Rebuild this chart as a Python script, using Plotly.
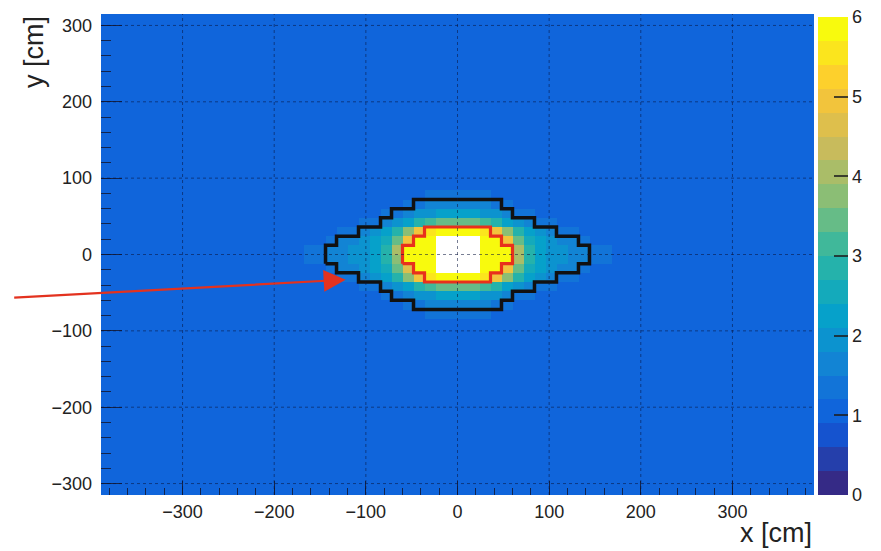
import numpy as np
import plotly.graph_objects as go

# ---------------- data ----------------
BIN_CM = 12
BACKGROUND = 1.0
Z_MIN, Z_MAX = 0, 6
X_TICKS = [-300, -200, -100, 0, 100, 200, 300]
Y_TICKS = [-300, -200, -100, 0, 100, 200, 300]
CBAR_TICKS = [0, 1, 2, 3, 4, 5, 6]

# bin centres of the populated region (x: -186..186, y: 90..-90, top row first)
BLOB_X = [-186, -174, -162, -150, -138, -126, -114, -102, -90, -78, -66, -54, -42, -30, -18, -6,
          6, 18, 30, 42, 54, 66, 78, 90, 102, 114, 126, 138, 150, 162, 174, 186]
BLOB_Y = [90, 78, 66, 54, 42, 30, 18, 6, -6, -18, -30, -42, -54, -66, -78, -90]
BLOB_Z = [
    [1.0,1.0,1.0,1.0,1.0,1.0,1.0,1.0,1.0,1.0,1.0,1.0,1.0,1.1,1.1,1.1,1.1,1.1,1.0,1.0,1.0,1.0,1.0,1.0,1.0,1.0,1.0,1.0,1.0,1.0,1.0,1.0],
    [1.0,1.0,1.0,1.0,1.0,1.0,1.0,1.0,1.0,1.0,1.1,1.1,1.2,1.3,1.3,1.3,1.3,1.3,1.3,1.2,1.1,1.1,1.0,1.0,1.0,1.0,1.0,1.0,1.0,1.0,1.0,1.0],
    [1.0,1.0,1.0,1.0,1.0,1.0,1.0,1.0,1.1,1.1,1.2,1.3,1.4,1.5,1.6,1.6,1.6,1.6,1.5,1.4,1.3,1.2,1.1,1.1,1.0,1.0,1.0,1.0,1.0,1.0,1.0,1.0],
    [1.0,1.0,1.0,1.0,1.0,1.0,1.1,1.1,1.2,1.3,1.4,1.6,1.8,2.0,2.2,2.3,2.3,2.2,2.0,1.8,1.6,1.4,1.3,1.2,1.1,1.1,1.0,1.0,1.0,1.0,1.0,1.0],
    [1.0,1.0,1.0,1.0,1.1,1.1,1.2,1.3,1.4,1.6,1.9,2.3,2.8,3.2,3.4,3.5,3.5,3.4,3.2,2.8,2.3,1.9,1.6,1.4,1.3,1.2,1.1,1.1,1.0,1.0,1.0,1.0],
    [1.0,1.0,1.1,1.1,1.2,1.3,1.4,1.6,1.9,2.3,2.8,3.8,4.9,5.5,5.8,5.9,5.9,5.8,5.5,5.0,3.9,2.9,2.3,1.9,1.6,1.4,1.3,1.2,1.1,1.1,1.0,1.0],
    [1.0,1.1,1.1,1.2,1.3,1.5,1.6,1.8,2.1,2.6,3.5,4.9,5.8,5.9,6.3,6.5,6.5,6.3,5.9,5.8,5.0,3.5,2.6,2.1,1.8,1.6,1.5,1.3,1.2,1.1,1.1,1.0],
    [1.1,1.2,1.3,1.4,1.5,1.6,1.8,2.0,2.3,2.9,4.0,5.8,5.9,5.95,6.8,7.2,7.2,6.8,5.95,5.9,5.8,4.0,2.9,2.3,2.0,1.8,1.6,1.5,1.4,1.3,1.2,1.1],
    [1.1,1.2,1.3,1.4,1.5,1.6,1.8,2.0,2.3,2.9,3.9,5.8,5.9,5.95,6.8,7.1,7.2,6.8,5.95,5.9,5.8,4.0,2.8,2.3,2.0,1.8,1.6,1.5,1.4,1.3,1.2,1.1],
    [1.0,1.1,1.1,1.2,1.3,1.5,1.6,1.8,2.1,2.6,3.5,4.8,5.8,5.9,6.3,6.4,6.5,6.3,5.9,5.8,4.9,3.5,2.6,2.1,1.8,1.6,1.5,1.3,1.2,1.1,1.1,1.0],
    [1.0,1.0,1.1,1.1,1.2,1.3,1.4,1.6,1.9,2.3,2.8,3.8,4.9,5.5,5.8,5.9,5.9,5.8,5.5,4.9,3.8,2.8,2.3,1.9,1.6,1.4,1.3,1.2,1.1,1.1,1.0,1.0],
    [1.0,1.0,1.0,1.0,1.1,1.1,1.2,1.3,1.4,1.6,1.9,2.3,2.8,3.2,3.4,3.5,3.5,3.4,3.2,2.8,2.3,1.9,1.6,1.4,1.3,1.2,1.1,1.1,1.0,1.0,1.0,1.0],
    [1.0,1.0,1.0,1.0,1.0,1.0,1.1,1.1,1.2,1.3,1.4,1.6,1.8,2.0,2.2,2.3,2.3,2.2,2.0,1.8,1.6,1.4,1.3,1.2,1.1,1.1,1.0,1.0,1.0,1.0,1.0,1.0],
    [1.0,1.0,1.0,1.0,1.0,1.0,1.0,1.0,1.1,1.1,1.2,1.3,1.4,1.5,1.6,1.6,1.6,1.6,1.5,1.4,1.3,1.2,1.1,1.1,1.0,1.0,1.0,1.0,1.0,1.0,1.0,1.0],
    [1.0,1.0,1.0,1.0,1.0,1.0,1.0,1.0,1.0,1.0,1.1,1.1,1.2,1.3,1.3,1.3,1.3,1.3,1.3,1.2,1.1,1.1,1.0,1.0,1.0,1.0,1.0,1.0,1.0,1.0,1.0,1.0],
    [1.0,1.0,1.0,1.0,1.0,1.0,1.0,1.0,1.0,1.0,1.0,1.0,1.0,1.1,1.1,1.1,1.1,1.1,1.0,1.0,1.0,1.0,1.0,1.0,1.0,1.0,1.0,1.0,1.0,1.0,1.0,1.0],
]

# contour outlines: column edges (cm) and half height (cm) of each column
BLACK_X_EDGES = [-144, -132, -108, -84, -72, -48, 48, 60, 84, 108, 132, 144]
BLACK_HALF = [12, 24, 36, 48, 60, 72, 60, 48, 36, 24, 12]
RED_X_EDGES = [-60, -48, -36, 36, 48, 60]
RED_HALF = [12, 24, 36, 24, 12]

X_RANGE = [-389, 389]
Y_RANGE = [-315, 315]
ARROW_TIP = (-122, -33)

# ---------------- build histogram grid ----------------
x_edges = np.arange(-396, 396 + BIN_CM, BIN_CM)
y_edges = np.arange(-324, 324 + BIN_CM, BIN_CM)
x_cent = (x_edges[:-1] + x_edges[1:]) / 2
y_cent = (y_edges[:-1] + y_edges[1:]) / 2
Z = np.full((len(y_cent), len(x_cent)), BACKGROUND)
for r, yv in enumerate(BLOB_Y):
    j = int(np.argmin(np.abs(y_cent - yv)))
    for c, xv in enumerate(BLOB_X):
        i = int(np.argmin(np.abs(x_cent - xv)))
        Z[j, i] = BLOB_Z[r][c]
Zd = np.where(Z > Z_MAX, np.nan, Z)  # cells above maximum are left unpainted

# ---------------- kBird palette, 20 discrete levels ----------------
stops = [0.0, 0.125, 0.25, 0.375, 0.5, 0.625, 0.75, 0.875, 1.0]
red = [0.2082, 0.0592, 0.0780, 0.0232, 0.1802, 0.5301, 0.8186, 0.9956, 0.9764]
green = [0.1664, 0.3599, 0.5041, 0.6419, 0.7178, 0.7492, 0.7328, 0.7862, 0.9832]
blue = [0.5293, 0.8684, 0.8385, 0.7914, 0.6425, 0.4662, 0.3499, 0.1968, 0.0539]


def bird(t):
    t = min(max(t, 0), 1)
    r = np.interp(t, stops, red)
    g = np.interp(t, stops, green)
    b = np.interp(t, stops, blue)
    return f"rgb({int(r*255)},{int(g*255)},{int(b*255)})"


NLEV = 20
cscale = []
for k in range(NLEV):
    col = bird(k / (NLEV - 1))
    cscale.append([k / NLEV, col])
    cscale.append([(k + 1) / NLEV, col])


def outline(edges, half):
    xs, ys = [edges[0], edges[0]], [-half[0], half[0]]
    n = len(half)
    for i in range(n):
        xs.append(edges[i + 1]); ys.append(half[i])
        if i + 1 < n:
            xs.append(edges[i + 1]); ys.append(half[i + 1])
    xs.append(edges[-1]); ys.append(-half[-1])
    for i in range(n - 1, -1, -1):
        xs.append(edges[i]); ys.append(-half[i])
        if i - 1 >= 0:
            xs.append(edges[i]); ys.append(-half[i - 1])
    return xs, ys


FONT = "Liberation Sans, Arial, Helvetica, sans-serif"

fig = go.Figure()
fig.add_trace(go.Heatmap(
    x=x_edges, y=y_edges, z=Zd, zmin=Z_MIN, zmax=Z_MAX,
    colorscale=cscale, zsmooth=False, hoverongaps=False,
    colorbar=dict(
        x=1.0056, xanchor="left", xref="paper", y=0, yanchor="bottom",
        len=478, lenmode="pixels", thickness=30, outlinewidth=0,
        xpad=0, ypad=0, ticklabeloverflow="allow",
        tickvals=CBAR_TICKS, ticks="inside", ticklen=14, tickwidth=1.5,
        tickcolor="rgba(30,30,30,0.8)",
        tickfont=dict(family=FONT, size=18, color="#222"),
    ),
))

bx, by = outline(BLACK_X_EDGES, BLACK_HALF)
rx, ry = outline(RED_X_EDGES, RED_HALF)
fig.add_trace(go.Scatter(x=bx, y=by, mode="lines", line=dict(color="#111111", width=3.5),
                         hoverinfo="skip", showlegend=False))
fig.add_trace(go.Scatter(x=rx, y=ry, mode="lines", line=dict(color="#e8301c", width=3.2),
                         hoverinfo="skip", showlegend=False))

# grid lines above the histogram (ROOT draws them on top)
shapes = []
GRID = dict(color="rgba(10,20,60,0.55)", width=1, dash="dot")
for v in X_TICKS:
    shapes.append(dict(type="line", xref="x", yref="paper", x0=v, x1=v, y0=0, y1=1,
                       line=GRID, layer="above"))
for v in Y_TICKS:
    shapes.append(dict(type="line", xref="paper", yref="y", x0=0, x1=1, y0=v, y1=v,
                       line=GRID, layer="above"))

# the page body keeps an 8 px margin, so the figure is 8 px smaller and shifted
fig.update_layout(
    width=873, height=543,
    margin=dict(l=93, r=67, t=6, b=56, autoexpand=False),
    paper_bgcolor="white", plot_bgcolor="white",
    showlegend=False,
    shapes=shapes,
    font=dict(family=FONT, size=18, color="#222"),
    annotations=[
        dict(text="x [cm]", xref="paper", yref="paper", x=1.0, y=0, xanchor="right",
             yanchor="top", yshift=-21, showarrow=False, font=dict(family=FONT, size=27, color="#222")),
        dict(text="y [cm]", xref="paper", yref="paper", x=0, y=1, xanchor="right",
             yanchor="top", xshift=-50, textangle=-90, showarrow=False,
             font=dict(family=FONT, size=27, color="#222")),
        dict(text="", x=ARROW_TIP[0], y=ARROW_TIP[1], xref="x", yref="y",
             ax=-333, ay=18, showarrow=True, arrowhead=2, arrowsize=2.0, arrowwidth=2.2,
             arrowcolor="#e3321f"),
    ],
)
fig.update_xaxes(
    range=X_RANGE, tickvals=X_TICKS, ticks="inside", ticklen=14, tickwidth=1.2,
    tickcolor="rgba(20,25,50,0.85)", showgrid=False, zeroline=False, layer="above traces",
    tickfont=dict(family=FONT, size=18, color="#222"), ticklabelstandoff=4,
    minor=dict(dtick=20, tick0=0, ticks="inside", ticklen=7, tickcolor="rgba(20,25,50,0.85)", showgrid=False),
    showline=False,
)
fig.update_yaxes(
    range=Y_RANGE, tickvals=Y_TICKS, ticks="inside", ticklen=21, tickwidth=1.2,
    tickcolor="rgba(20,25,50,0.85)", showgrid=False, zeroline=False, layer="above traces",
    tickfont=dict(family=FONT, size=18, color="#222"), ticklabelstandoff=8,
    minor=dict(dtick=20, tick0=0, ticks="inside", ticklen=10, tickcolor="rgba(20,25,50,0.85)", showgrid=False),
    showline=False,
)

fig.write_html("out.html")
